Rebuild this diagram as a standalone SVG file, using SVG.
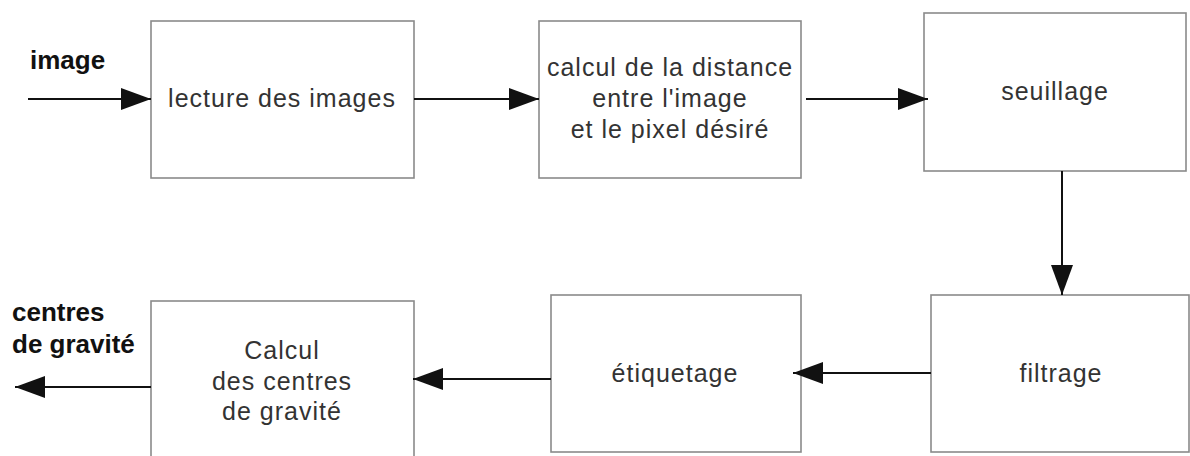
<svg xmlns="http://www.w3.org/2000/svg" width="1190" height="456" viewBox="0 0 1190 456">
<style>
.box{fill:#fff;stroke:#8a8a8a;stroke-width:1.6}
.t{font-family:"Liberation Sans",Arial,sans-serif;font-size:25px;fill:#333;text-anchor:middle;letter-spacing:1px}
.b{font-family:"Liberation Sans",Arial,sans-serif;font-size:26px;font-weight:bold;fill:#111}
.c{stroke:#111;stroke-width:2;fill:none;marker-end:url(#ah)}
</style>
<defs>
<marker id="ah" markerUnits="userSpaceOnUse" markerWidth="30" markerHeight="22" refX="30" refY="11" orient="auto">
<path d="M0,0 L30,11 L0,22 z" fill="#111"/>
</marker>
</defs>
<rect width="1190" height="456" fill="#fff"/>
<g id="lbl-image"><text class="b" x="30" y="69">image</text></g>
<g id="lbl-centres"><text class="b" x="12" y="321">centres</text><text class="b" x="12" y="353">de gravité</text></g>
<g id="n1"><rect class="box" x="151" y="21" width="263" height="157"/><text class="t" x="282" y="107">lecture des images</text></g>
<g id="n2"><rect class="box" x="539" y="21" width="262" height="157"/><text class="t" x="670" y="76">calcul de la distance</text><text class="t" x="670" y="107">entre l'image</text><text class="t" x="670" y="138">et le pixel désiré</text></g>
<g id="n3"><rect class="box" x="924" y="13" width="262" height="158"/><text class="t" x="1055" y="100">seuillage</text></g>
<g id="n4"><rect class="box" x="931" y="295" width="258" height="157"/><text class="t" x="1061" y="382">filtrage</text></g>
<g id="n5"><rect class="box" x="551" y="295" width="250" height="157"/><text class="t" x="675" y="382">étiquetage</text></g>
<g id="n6"><rect class="box" x="151" y="301" width="263" height="170"/><text class="t" x="282" y="359">Calcul</text><text class="t" x="282" y="390">des centres</text><text class="t" x="282" y="420">de gravité</text></g>
<g id="connectors">
<line class="c" x1="28" y1="99" x2="151" y2="99"/>
<line class="c" x1="414" y1="99" x2="539" y2="99"/>
<line class="c" x1="806" y1="99" x2="928" y2="99"/>
<line class="c" x1="1062" y1="171" x2="1062" y2="295"/>
<line class="c" x1="931" y1="373" x2="793" y2="373"/>
<line class="c" x1="551" y1="379" x2="413" y2="379"/>
<line class="c" x1="151" y1="387" x2="15" y2="387"/>
</g>
</svg>
